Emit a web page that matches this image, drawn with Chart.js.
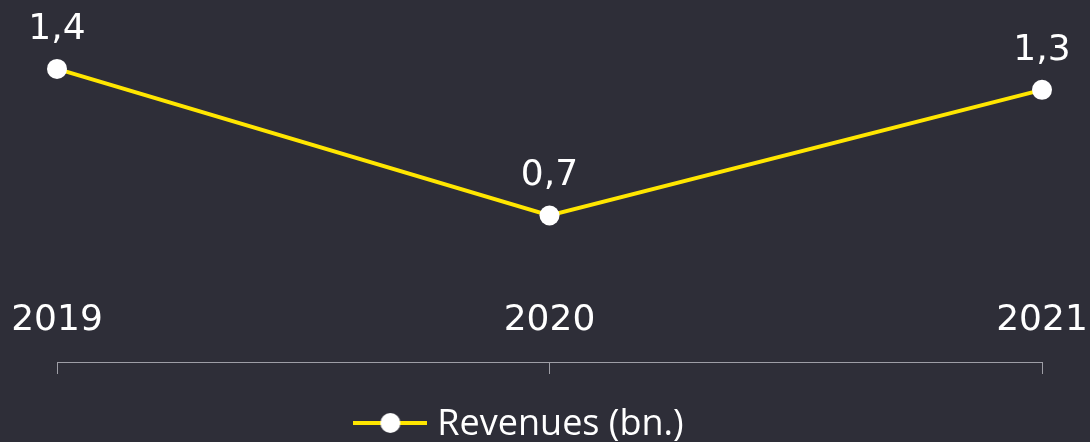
<!DOCTYPE html>
<html>
<head>
<meta charset="utf-8">
<script src="https://cdn.jsdelivr.net/npm/chart.js@4"></script>
<style>
  html, body { margin: 0; padding: 0; background: #2e2e38; overflow: hidden; }
  #wrap { width: 1090px; height: 442px; }
</style>
</head>
<body>
<div id="wrap"><canvas id="revChart"></canvas></div>
<script>
const years = ['2019', '2020', '2021'];
const revenues = [1.4, 0.7, 1.3];
const seriesLabel = 'Revenues (bn.)';

const YELLOW = '#ffe600';
const AXIS = '#9e9ea6';
const numFont = '36px "DejaVu Sans"';
const LEGEND_SHIFT = -27;

// little line + dot used as legend marker
function legendMarker() {
  const c = document.createElement('canvas');
  c.width = 74; c.height = 24;
  const g = c.getContext('2d');
  g.strokeStyle = YELLOW;
  g.lineWidth = 4;
  g.beginPath(); g.moveTo(0, 10); g.lineTo(74, 10); g.stroke();
  g.fillStyle = '#fff';
  g.beginPath(); g.arc(37, 10, 10, 0, Math.PI * 2); g.fill();
  return c;
}

// value labels above points + year labels above the axis
const textLabels = {
  id: 'textLabels',
  afterDraw(chart) {
    const ctx = chart.ctx;
    const xs = chart.scales.x;
    ctx.save();
    ctx.font = numFont;
    ctx.fillStyle = '#fff';
    ctx.textAlign = 'center';
    ctx.textBaseline = 'alphabetic';
    chart.getDatasetMeta(0).data.forEach((pt, i) => {
      ctx.fillText(revenues[i].toFixed(1).replace('.', ','), pt.x, pt.y - 30);
    });
    years.forEach((y, i) => {
      ctx.fillText(y, xs.getPixelForTick(i), xs.top - 32);
    });
    ctx.restore();
  }
};

const shiftLegend = {
  id: 'shiftLegend',
  afterLayout(chart) {
    chart.legend.left += LEGEND_SHIFT;
    chart.legend.right += LEGEND_SHIFT;
  }
};

function draw() {
  const marker = legendMarker();
  new Chart(document.getElementById('revChart'), {
    type: 'line',
    data: {
      labels: years,
      datasets: [{
        label: seriesLabel,
        data: revenues,
        borderColor: YELLOW,
        borderWidth: 4,
        pointRadius: 10,
        pointBorderWidth: 0,
        pointBackgroundColor: '#fff',
        tension: 0,
        clip: false
      }]
    },
    options: {
      responsive: true,
      maintainAspectRatio: false,
      animation: false,
      layout: { padding: { left: 57, right: 48, top: 48, bottom: -11 } },
      scales: {
        x: {
          offset: false,
          grid: { drawOnChartArea: false, drawTicks: true, tickLength: 12, color: AXIS, lineWidth: 1 },
          border: { display: true, color: AXIS, width: 1 },
          ticks: { display: false }
        },
        y: { display: false, min: 0, max: 1.5 }
      },
      plugins: {
        tooltip: { enabled: false },
        legend: {
          position: 'bottom',
          labels: {
            usePointStyle: true,
            pointStyleWidth: 58,
            padding: 33,
            color: '#fff',
            font: { family: 'Open Sans', size: 36 },
            generateLabels: () => [{
              text: seriesLabel,
              pointStyle: marker,
              fillStyle: '#fff',
              strokeStyle: '#fff',
              lineWidth: 0,
              hidden: false,
              datasetIndex: 0,
              fontColor: '#fff'
            }]
          }
        }
      }
    },
    plugins: [textLabels, shiftLegend]
  });
}

document.fonts.load(numFont).then(draw, draw);
</script>
</body>
</html>
